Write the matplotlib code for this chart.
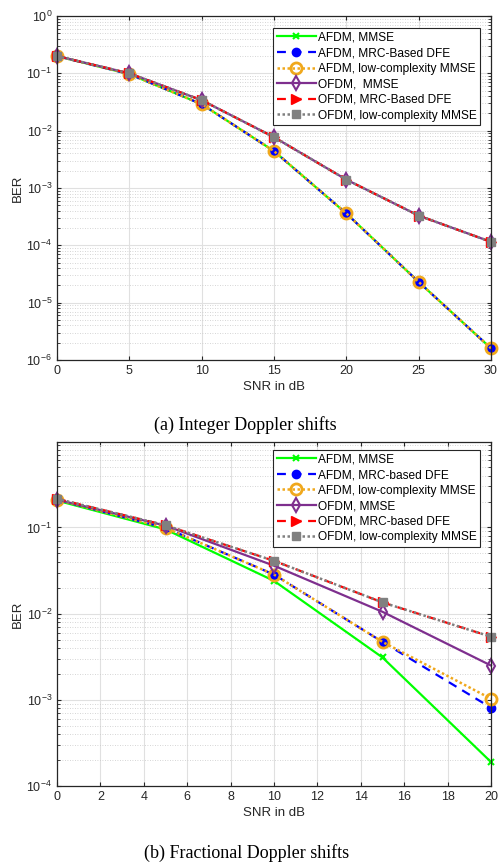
import matplotlib
matplotlib.use("Agg")
import matplotlib.pyplot as plt
from matplotlib.ticker import LogLocator, NullFormatter

plt.rcParams["font.family"] = ["Liberation Sans", "DejaVu Sans"]

# (a) integer Doppler shifts
snr_a = [0, 5, 10, 15, 20, 25, 30]
afdm_mmse_a = [0.2, 0.097, 0.029, 0.0044, 3.6e-4, 2.3e-5, 1.6e-6]
afdm_dfe_a = [0.2, 0.097, 0.029, 0.0044, 3.6e-4, 2.3e-5, 1.6e-6]
afdm_lc_a = [0.2, 0.097, 0.029, 0.0044, 3.6e-4, 2.3e-5, 1.6e-6]
ofdm_mmse_a = [0.2, 0.1, 0.034, 0.0077, 1.4e-3, 3.3e-4, 1.15e-4]
ofdm_dfe_a = [0.2, 0.1, 0.034, 0.0077, 1.4e-3, 3.3e-4, 1.15e-4]
ofdm_lc_a = [0.2, 0.1, 0.034, 0.0077, 1.4e-3, 3.3e-4, 1.15e-4]
labels_a = ["AFDM, MMSE", "AFDM, MRC-Based DFE", "AFDM, low-complexity MMSE",
            "OFDM,  MMSE", "OFDM, MRC-Based DFE", "OFDM, low-complexity MMSE"]

# (b) fractional Doppler shifts
snr_b = [0, 5, 10, 15, 20]
afdm_mmse_b = [0.205, 0.095, 0.024, 0.0031, 1.9e-4]
afdm_dfe_b = [0.21, 0.099, 0.0284, 0.0047, 8.1e-4]
afdm_lc_b = [0.21, 0.099, 0.0284, 0.0047, 1.03e-3]
ofdm_mmse_b = [0.21, 0.105, 0.036, 0.0105, 0.0025]
ofdm_dfe_b = [0.215, 0.106, 0.041, 0.0135, 0.0054]
ofdm_lc_b = [0.215, 0.106, 0.041, 0.0135, 0.0054]
labels_b = ["AFDM, MMSE", "AFDM, MRC-based DFE", "AFDM, low-complexity MMSE",
            "OFDM, MMSE", "OFDM, MRC-based DFE", "OFDM, low-complexity MMSE"]

styles = [
    dict(color="#00ff00", ls="-", marker="x", ms=5, mew=1.5, lw=1.6),
    dict(color="#0000ff", ls=(0, (4, 3)), marker="o", ms=6, mfc="#0000ff", lw=1.6),
    dict(color="#f0a81c", ls=(0, (1, 1)), marker="o", ms=8, mfc="none", mew=2, lw=1.8),
    dict(color="#7e2f8e", ls="-", marker="d", ms=7, mfc="none", mew=1.5, lw=1.6),
    dict(color="#ff0000", ls=(0, (4, 3)), marker=">", ms=7, mfc="#ff0000", lw=1.6),
    dict(color="#808080", ls=(0, (1, 1)), marker="s", ms=6, mfc="#808080", lw=1.8),
]

axis_col = "#262626"


def style_axes(ax, xticks):
    ax.set_yscale("log")
    ax.set_xticks(xticks)
    ax.yaxis.set_major_locator(LogLocator(base=10, numticks=20))
    ax.yaxis.set_minor_locator(LogLocator(base=10, subs=range(2, 10), numticks=20))
    ax.yaxis.set_minor_formatter(NullFormatter())
    ax.grid(True, which="major", color="#e0e0e0", lw=0.8, ls="-")
    ax.grid(True, which="minor", axis="y", color="#c8c8c8", lw=0.6, ls=(0, (1, 2)))
    ax.tick_params(which="both", direction="in", top=True, right=True,
                   colors=axis_col, labelsize=9, length=3)
    ax.tick_params(which="minor", length=2)
    for sp in ax.spines.values():
        sp.set_color(axis_col)
        sp.set_linewidth(0.9)
    ax.set_xlabel("SNR in dB", fontsize=9.5, color=axis_col, labelpad=3)
    ax.set_ylabel("BER", fontsize=9.5, color=axis_col, labelpad=2)
    ax.set_axisbelow(True)


def add_legend(ax, top):
    leg = ax.legend(loc="upper right", bbox_to_anchor=(0.975, top), fontsize=8.6,
                    handlelength=3.3, labelspacing=0.3, borderaxespad=0,
                    fancybox=False, framealpha=1, edgecolor=axis_col,
                    handletextpad=0.15, borderpad=0.3)
    leg.get_frame().set_linewidth(0.8)


fig = plt.figure(figsize=(5, 8.65), dpi=100)

ax1 = fig.add_axes([0.114, 0.5838, 0.868, 0.3977])
series_a = [afdm_mmse_a, afdm_dfe_a, afdm_lc_a, ofdm_mmse_a, ofdm_dfe_a, ofdm_lc_a]
for vals, lab, st in zip(series_a, labels_a, styles):
    ax1.plot(snr_a, vals, label=lab, clip_on=False, **st)
style_axes(ax1, [0, 5, 10, 15, 20, 25, 30])
ax1.set_xlim(0, 30)
ax1.set_ylim(1e-6, 1)
add_legend(ax1, 0.965)

ax2 = fig.add_axes([0.114, 0.0913, 0.868, 0.3977])
series_b = [afdm_mmse_b, afdm_dfe_b, afdm_lc_b, ofdm_mmse_b, ofdm_dfe_b, ofdm_lc_b]
for vals, lab, st in zip(series_b, labels_b, styles):
    ax2.plot(snr_b, vals, label=lab, clip_on=False, **st)
style_axes(ax2, list(range(0, 21, 2)))
ax2.set_xlim(0, 20)
ax2.set_ylim(1e-4, 0.98)
ax2.set_yticks([1e-4, 1e-3, 1e-2, 1e-1])
add_legend(ax2, 0.977)

fig.text(0.49, 1 - 425 / 865, "(a) Integer Doppler shifts", ha="center", va="center",
         fontsize=13, family=["Liberation Serif", "DejaVu Serif"])
fig.text(0.494, 1 - 853 / 865, "(b) Fractional Doppler shifts", ha="center", va="center",
         fontsize=13, family=["Liberation Serif", "DejaVu Serif"])

fig.savefig("out.png", dpi=100)
